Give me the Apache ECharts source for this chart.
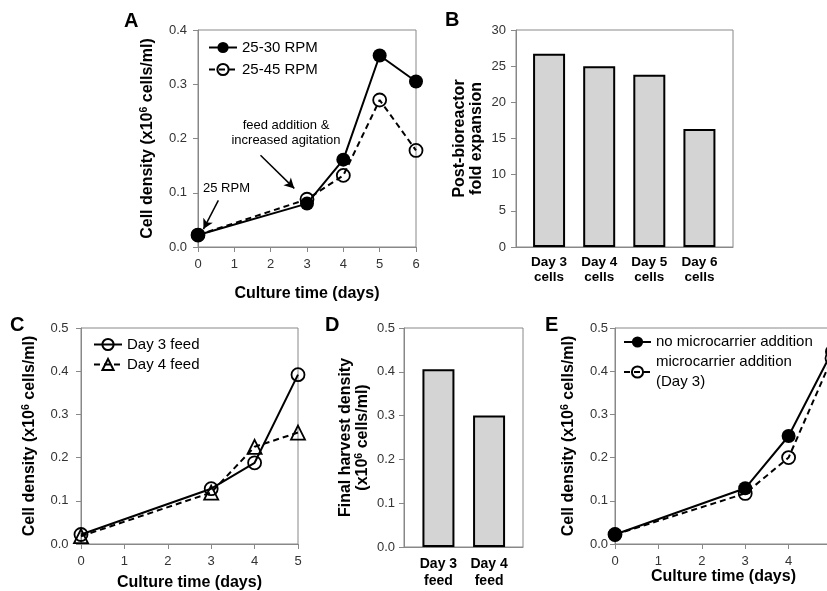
<!DOCTYPE html>
<html lang="en">
<head>
    <meta charset="UTF-8">
    <title>Culture time</title>
    <script type="text/javascript" src="https://cdn.jsdelivr.net/npm/echarts@6/dist/echarts.min.js"></script>
    <style>
        html, body { margin: 0; padding: 0; background: #fff; }
        #chart { width: 827px; height: 591px; }
    </style>
</head>
<body>
<div id="chart"></div>
<script type="text/javascript">
    // panel A
    var daysA = [0, 3, 4, 5, 6];
    var rpm30 = [0.022, 0.080, 0.161, 0.353, 0.305];
    var rpm45 = [0.022, 0.088, 0.132, 0.271, 0.178];
    // panel B
    var cellsB = ['Day 3\ncells', 'Day 4\ncells', 'Day 5\ncells', 'Day 6\ncells'];
    var foldB = [26.7, 25.0, 23.8, 16.3];
    // panel C
    var daysC = [0, 3, 4, 5];
    var feedDay3 = [0.022, 0.128, 0.188, 0.392];
    var feedDay4 = [0.018, 0.119, 0.225, 0.258];
    // panel D
    var feedD = ['Day 3\nfeed', 'Day 4\nfeed'];
    var harvestD = [0.406, 0.300];
    // panel E
    var daysE = [0, 3, 4, 5];
    var noCarrier = [0.022, 0.129, 0.250, 0.445];
    var withCarrier = [0.022, 0.117, 0.200, 0.430];

    var FONT = 'Arial, "Liberation Sans", sans-serif';
    var GRAY = '#888';

    function pairs(xs, ys) {
        return xs.map(function (x, i) { return [x, ys[i]]; });
    }
    function indexed(ys) {
        return ys.map(function (y, i) { return [i, y]; });
    }
    function indexes(list) {
        return list.map(function (c, i) { return i; });
    }

    function valueY(grid, max, interval, name, gap, digits, margin) {
        return {
            type: 'value', gridIndex: grid, min: 0, max: max, interval: interval,
            axisLine: {show: true, onZero: false, lineStyle: {color: GRAY}},
            axisTick: {show: true, length: 5, lineStyle: {color: GRAY}},
            splitLine: {show: false},
            axisLabel: {
                color: '#333', fontSize: 13, fontFamily: FONT, margin: margin,
                formatter: function (v) { return v.toFixed(digits); }
            },
            name: name, nameLocation: 'middle', nameGap: gap, nameRotate: 90,
            nameTextStyle: {
                color: '#000', fontSize: 16, fontWeight: 'bold', fontFamily: FONT, lineHeight: 17,
                rich: {
                    t: {fontSize: 16, fontWeight: 'bold', fontFamily: FONT, color: '#000', lineHeight: 17},
                    s: {fontSize: 10.5, fontWeight: 'bold', fontFamily: FONT, color: '#000', verticalAlign: 'top', lineHeight: 17}
                }
            }
        };
    }

    function timeX(grid, max, gap) {
        return {
            type: 'value', gridIndex: grid, min: 0, max: max, interval: 1,
            axisLine: {show: true, onZero: false, lineStyle: {color: GRAY}},
            axisTick: {show: true, length: 5, lineStyle: {color: GRAY}},
            splitLine: {show: false},
            axisLabel: {color: '#333', fontSize: 13, fontFamily: FONT, margin: 11},
            name: 'Culture time (days)', nameLocation: 'middle', nameGap: gap,
            nameTextStyle: {color: '#000', fontSize: 16, fontWeight: 'bold', fontFamily: FONT}
        };
    }

    // bars sit on a value axis so their spacing can follow the picture
    function catX(grid, cats, lo, hi, size, lh) {
        return {
            type: 'value', gridIndex: grid, min: lo, max: hi,
            axisLine: {show: true, onZero: false, lineStyle: {color: GRAY}},
            axisTick: {show: false},
            splitLine: {show: false},
            axisLabel: {
                color: '#000', fontSize: size, fontWeight: 'bold', fontFamily: FONT, lineHeight: lh, margin: 8,
                customValues: indexes(cats),
                formatter: function (v) { return cats[Math.round(v)]; }
            }
        };
    }

    var filledLine = {
        symbol: 'circle', symbolSize: 14,
        itemStyle: {color: '#000'},
        lineStyle: {color: '#000', width: 2}
    };
    var openLine = {
        symbol: 'circle', symbolSize: 13,
        itemStyle: {color: 'rgba(0,0,0,0)', borderColor: '#000', borderWidth: 1.8},
        lineStyle: {color: '#000', width: 2, type: [6, 4]}
    };
    var openTri = {
        symbol: 'triangle', symbolSize: 14,
        itemStyle: openLine.itemStyle, lineStyle: openLine.lineStyle
    };
    var openCircSolid = {
        symbol: 'circle', symbolSize: 13,
        itemStyle: openLine.itemStyle, lineStyle: filledLine.lineStyle
    };

    function lineSeries(name, grid, data, style, extra) {
        var s = {
            name: name, type: 'line', xAxisIndex: grid, yAxisIndex: grid, data: data,
            symbol: style.symbol, symbolSize: style.symbolSize,
            itemStyle: style.itemStyle, lineStyle: style.lineStyle,
            showSymbol: true, animation: false, clip: true
        };
        if (extra) {
            for (var k in extra) s[k] = extra[k];
        }
        return s;
    }

    function barSeries(grid, data) {
        return {
            type: 'bar', xAxisIndex: grid, yAxisIndex: grid, data: data, barWidth: 32,
            itemStyle: {color: '#d4d4d4', borderColor: '#000', borderWidth: 2},
            animation: false
        };
    }

    function legend(names, left, top, gap, lh, width) {
        return {
            data: names, orient: 'vertical', left: left, top: top, itemGap: gap,
            itemWidth: width, itemHeight: 14, selectedMode: false, padding: 0,
            textStyle: {color: '#000', fontSize: 15, fontFamily: FONT, lineHeight: lh}
        };
    }

    function grid(l, t, w, h) {
        return {left: l, top: t, width: w, height: h, show: true, outerBoundsMode: 'none',
            borderColor: GRAY, borderWidth: 1, backgroundColor: 'transparent', containLabel: false};
    }

    var cellName = '{t|Cell density (x10}{s|6}{t| cells/ml)}';

    var option = {
        backgroundColor: '#fff',
        textStyle: {fontFamily: FONT},
        grid: [
            grid(198, 30, 218, 217),
            grid(516, 30, 217, 217),
            grid(81, 328, 217, 216),
            grid(404, 328, 119, 219),
            grid(615, 328, 217, 216)
        ],
        xAxis: [
            timeX(0, 6, 39),
            catX(1, cellsB, -0.66, 3.67, 13.5, 15),
            timeX(2, 5, 31),
            catX(3, feedD, -0.68, 1.67, 14, 17.5),
            timeX(4, 5, 25)
        ],
        yAxis: [
            valueY(0, 0.4, 0.1, cellName, 42, 1, 11),
            valueY(1, 30, 5, 'Post-bioreactor\nfold expansion', 31, 0, 10),
            valueY(2, 0.5, 0.1, cellName, 43, 1, 12.5),
            valueY(3, 0.5, 0.1, '{t|Final harvest density}\n{t|(x10}{s|6}{t| cells/ml)}', 33, 1, 9),
            valueY(4, 0.5, 0.1, cellName, 38, 1, 7)
        ],
        legend: [
            legend(['25-30 RPM', '25-45 RPM'], 208, 39, 5, 17, 28),
            legend(['Day 3 feed', 'Day 4 feed'], 93, 336, 3, 17, 28),
            legend(['no microcarrier addition', 'microcarrier addition\n(Day 3)'], 623, 332, 0, 20, 27)
        ],
        series: [
            lineSeries('25-30 RPM', 0, pairs(daysA, rpm30), filledLine, {
                markLine: {
                    silent: true, symbol: ['none', 'arrow'], symbolSize: [8, 10],
                    label: {show: false}, animation: false,
                    lineStyle: {color: '#000', width: 1.5, type: 'solid'},
                    data: [
                        [{coord: [0.56, 0.086]}, {coord: [0.15, 0.033]}],
                        [{coord: [1.72, 0.169]}, {coord: [2.65, 0.108]}]
                    ]
                }
            }),
            lineSeries('25-45 RPM', 0, pairs(daysA, rpm45), openLine),
            barSeries(1, indexed(foldB)),
            lineSeries('Day 3 feed', 2, pairs(daysC, feedDay3), openCircSolid),
            lineSeries('Day 4 feed', 2, pairs(daysC, feedDay4), openTri),
            barSeries(3, indexed(harvestD)),
            lineSeries('no microcarrier addition', 4, pairs(daysE, noCarrier), filledLine),
            lineSeries('microcarrier addition\n(Day 3)', 4, pairs(daysE, withCarrier), openLine)
        ],
        graphic: [
            {type: 'text', x: 124, y: 11, style: {text: 'A', font: 'bold 20px ' + FONT, fill: '#000'}},
            {type: 'text', x: 445, y: 10, style: {text: 'B', font: 'bold 20px ' + FONT, fill: '#000'}},
            {type: 'text', x: 10, y: 315, style: {text: 'C', font: 'bold 20px ' + FONT, fill: '#000'}},
            {type: 'text', x: 325, y: 315, style: {text: 'D', font: 'bold 20px ' + FONT, fill: '#000'}},
            {type: 'text', x: 545, y: 315, style: {text: 'E', font: 'bold 20px ' + FONT, fill: '#000'}},
            {type: 'text', x: 203, y: 182, style: {text: '25 RPM', font: '13px ' + FONT, fill: '#000'}},
            {type: 'text', x: 286, y: 118, style: {
                text: 'feed addition &\nincreased agitation', font: '13px ' + FONT, fill: '#000',
                textAlign: 'center', lineHeight: 15
            }}
        ]
    };

    var myChart = echarts.init(document.getElementById('chart'), null, {renderer: 'canvas'});
    myChart.setOption(option);
</script>
</body>
</html>
